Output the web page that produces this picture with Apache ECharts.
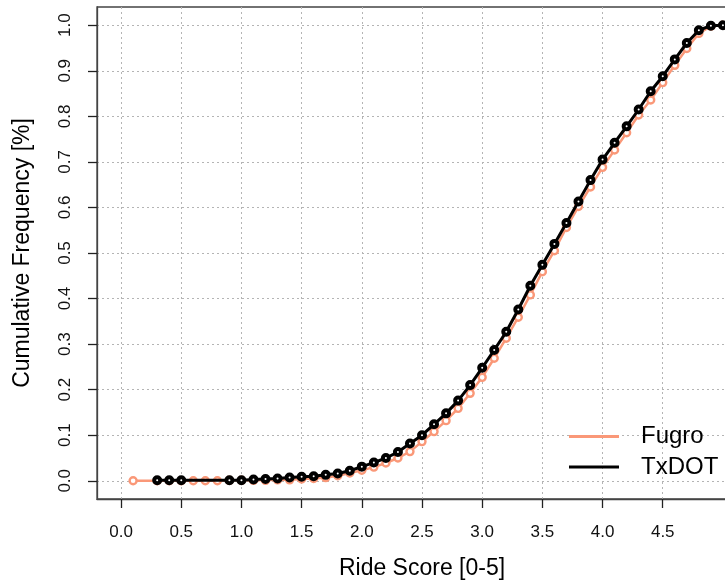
<!DOCTYPE html>
<html>
<head>
<meta charset="utf-8">
<script src="https://cdn.jsdelivr.net/npm/echarts@6/dist/echarts.min.js"></script>
<style>
  html, body { margin: 0; padding: 0; background: #fff; }
  #chart { width: 725px; height: 588px; }
</style>
</head>
<body>
<div id="chart"></div>
<script>
// ride score (x) and cumulative frequency (y)
var fugroX = [0.1, 0.3, 0.4, 0.5, 0.6, 0.7, 0.8, 0.9, 1.0, 1.1, 1.2, 1.3, 1.4, 1.5, 1.6, 1.7, 1.8, 1.9,
  2.0, 2.1, 2.2, 2.3, 2.4, 2.5, 2.6, 2.7, 2.8, 2.9, 3.0, 3.1, 3.2, 3.3, 3.4, 3.5, 3.6, 3.7, 3.8, 3.9,
  4.0, 4.1, 4.2, 4.3, 4.4, 4.5, 4.6, 4.7, 4.8, 4.9, 5.0];
var fugroY = [0.0, 0.0, 0.0, 0.0, 0.0, 0.0, 0.0, 0.001, 0.001, 0.001, 0.001, 0.002, 0.002, 0.004, 0.005, 0.007, 0.011, 0.017,
  0.023, 0.030, 0.039, 0.050, 0.064, 0.086, 0.108, 0.132, 0.159, 0.192, 0.227, 0.269, 0.313, 0.359, 0.408, 0.459, 0.505, 0.556, 0.602, 0.645,
  0.688, 0.726, 0.764, 0.803, 0.836, 0.874, 0.912, 0.949, 0.982, 0.998, 1.0];

var txdotX = [0.3, 0.4, 0.5, 0.9, 1.0, 1.1, 1.2, 1.3, 1.4, 1.5, 1.6, 1.7, 1.8, 1.9,
  2.0, 2.1, 2.2, 2.3, 2.4, 2.5, 2.6, 2.7, 2.8, 2.9, 3.0, 3.1, 3.2, 3.3, 3.4, 3.5, 3.6, 3.7, 3.8, 3.9,
  4.0, 4.1, 4.2, 4.3, 4.4, 4.5, 4.6, 4.7, 4.8, 4.9, 5.0];
var txdotY = [0.001, 0.001, 0.001, 0.001, 0.001, 0.003, 0.004, 0.005, 0.007, 0.009, 0.010, 0.013, 0.016, 0.022,
  0.031, 0.040, 0.050, 0.063, 0.082, 0.100, 0.124, 0.148, 0.176, 0.210, 0.248, 0.287, 0.327, 0.376, 0.428, 0.474, 0.520, 0.566, 0.613, 0.660,
  0.705, 0.742, 0.778, 0.815, 0.855, 0.888, 0.925, 0.961, 0.989, 0.999, 1.0];

var xTicks = [0, 0.5, 1, 1.5, 2, 2.5, 3, 3.5, 4, 4.5];
var yTicks = [0, 0.1, 0.2, 0.3, 0.4, 0.5, 0.6, 0.7, 0.8, 0.9, 1.0];

function pairs(xs, ys) {
  return xs.map(function (x, i) { return [x, ys[i]]; });
}

var chart = echarts.init(document.getElementById('chart'));
var gridLine = { show: true, lineStyle: { color: '#b4b4b4', type: [2, 3], width: 1 } };
var fontFam = '"Liberation Sans", Arial, sans-serif';
var orange = '#fa9878';

chart.setOption({
  animation: false,
  textStyle: { fontFamily: fontFam },
  // plot box runs past the right edge (picture is cropped)
  grid: {
    left: 97, top: 7, bottom: 89, width: 650,
    outerBoundsMode: 'none', containLabel: false,
    show: true, borderColor: '#444', borderWidth: 1.3, backgroundColor: 'transparent'
  },
  legend: {
    orient: 'vertical',
    left: 569, top: 423, padding: 0,
    itemWidth: 50, itemHeight: 3, itemGap: 3.5,
    icon: 'rect',
    textStyle: { fontSize: 24, color: '#000', lineHeight: 27, padding: [0, 0, 0, 17] },
    data: [
      { name: 'Fugro', itemStyle: { color: orange, borderWidth: 0 } },
      { name: 'TxDOT', itemStyle: { color: '#000', borderWidth: 0 } }
    ]
  },
  xAxis: {
    type: 'value', min: -0.2, max: 5.2,
    name: 'Ride Score [0-5]', nameLocation: 'middle', nameGap: 58,
    nameTextStyle: { fontSize: 23, color: '#000' },
    axisLine: { show: true, onZero: false, lineStyle: { color: '#444', width: 1.3 } },
    axisTick: { show: true, length: 9, customValues: xTicks, lineStyle: { color: '#222', width: 1.3 } },
    axisLabel: { customValues: xTicks, margin: 24.5, fontSize: 17, color: '#111',
      formatter: function (v) { return v.toFixed(1); } },
    splitLine: gridLine
  },
  yAxis: {
    type: 'value', min: -0.04, max: 1.04,
    name: 'Cumulative Frequency [%]', nameLocation: 'middle', nameGap: 63,
    nameTextStyle: { fontSize: 23, color: '#000' },
    axisLine: { show: true, onZero: false, lineStyle: { color: '#444', width: 1.3 } },
    axisTick: { show: true, length: 9, customValues: yTicks, lineStyle: { color: '#222', width: 1.3 } },
    axisLabel: { customValues: yTicks, margin: 23.5, fontSize: 17, color: '#111', rotate: 90,
      formatter: function (v) { return v.toFixed(1); } },
    splitLine: gridLine
  },
  series: [
    {
      name: 'Fugro', type: 'line',
      data: pairs(fugroX, fugroY),
      symbol: 'circle', symbolSize: 7,
      lineStyle: { color: orange, width: 2.5 },
      itemStyle: { color: '#fff', borderColor: orange, borderWidth: 2.4 },
      z: 2
    },
    {
      name: 'TxDOT', type: 'line',
      data: pairs(txdotX, txdotY),
      symbol: 'circle', symbolSize: 6,
      lineStyle: { color: '#000', width: 3 },
      itemStyle: { color: '#fff', borderColor: '#000', borderWidth: 4 },
      z: 3
    }
  ]
});
</script>
</body>
</html>
